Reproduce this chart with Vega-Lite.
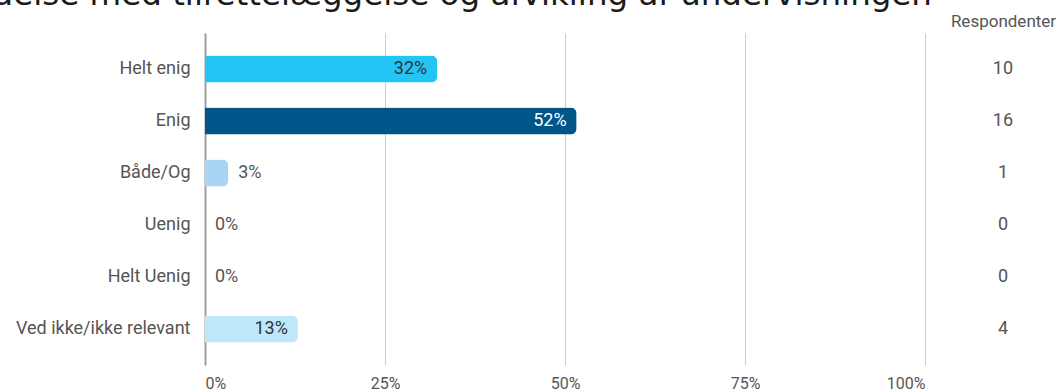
{
  "$schema": "https://vega.github.io/schema/vega-lite/v6.json",
  "autosize": {"type": "none"},
  "padding": {"left": 205, "top": 33, "right": 136, "bottom": 27},
  "width": 720,
  "height": 332,
  "background": "white",
  "config": {"view": {"stroke": null}, "font": "Roboto"},
  "title": {
    "text": "ndelse med tilrettelæggelse og afvikling af undervisningen",
    "font": "DejaVu Sans",
    "fontSize": 32.5,
    "fontWeight": "normal",
    "color": "#1a1a1a",
    "anchor": "start",
    "frame": "group",
    "baseline": "alphabetic",
    "offset": 0,
    "dx": -233,
    "dy": 25
  },
  "data": {
    "values": [
      {"cat": "Helt enig", "n": 10, "pct": 0.3226},
      {"cat": "Enig", "n": 16, "pct": 0.5161},
      {"cat": "Både/Og", "n": 1, "pct": 0.0323},
      {"cat": "Uenig", "n": 0, "pct": 0},
      {"cat": "Helt Uenig", "n": 0, "pct": 0},
      {"cat": "Ved ikke/ikke relevant", "n": 4, "pct": 0.129}
    ]
  },
  "encoding": {
    "y": {
      "field": "cat", "type": "nominal", "sort": null,
      "scale": {"paddingInner": 0.48, "paddingOuter": 0.43},
      "axis": {
        "title": null, "ticks": false, "labelPadding": 15,
        "labelFontSize": 18, "labelColor": "#555555", "labelFont": "Roboto",
        "domainColor": "#9e9e9e", "domainWidth": 2, "grid": false
      }
    }
  },
  "layer": [
    {
      "mark": {"type": "bar", "cornerRadiusEnd": 6},
      "encoding": {
        "x": {
          "field": "pct", "type": "quantitative",
          "scale": {"domain": [0, 1], "nice": false},
          "axis": {
            "title": "Respondenter", "format": ".0%", "values": [0, 0.25, 0.5, 0.75, 1],
            "domain": false, "ticks": false, "labelFlush": true,
            "labelPadding": 10, "labelFontSize": 16, "labelColor": "#555555",
            "gridColor": "#cccccc", "gridWidth": 1,
            "titleX": 798, "titleY": -344, "titleAlign": "center", "titleBaseline": "middle",
            "titleFontSize": 17, "titleFontWeight": "normal", "titleColor": "#555555", "titleFont": "Roboto"
          }
        },
        "color": {
          "field": "cat", "type": "nominal", "legend": null,
          "scale": {
            "domain": ["Helt enig", "Enig", "Både/Og", "Uenig", "Helt Uenig", "Ved ikke/ikke relevant"],
            "range": ["#22c5f4", "#005589", "#a9d5f5", "#7fb3d5", "#4a90c2", "#bee7fa"]
          }
        }
      }
    },
    {
      "transform": [{"filter": "datum.pct >= 0.1"}],
      "mark": {"type": "text", "align": "right", "dx": -10, "fontSize": 18, "baseline": "middle"},
      "encoding": {
        "x": {"field": "pct", "type": "quantitative"},
        "text": {"field": "pct", "format": ".0%"},
        "color": {"condition": {"test": "datum.cat === 'Enig'", "value": "#ffffff"}, "value": "#333333"}
      }
    },
    {
      "transform": [{"filter": "datum.pct < 0.1"}],
      "mark": {"type": "text", "align": "left", "dx": 10, "fontSize": 18, "baseline": "middle", "color": "#555555"},
      "encoding": {
        "x": {"field": "pct", "type": "quantitative"},
        "text": {"field": "pct", "format": ".0%"}
      }
    },
    {
      "mark": {"type": "text", "align": "center", "fontSize": 18, "baseline": "middle", "color": "#555555"},
      "encoding": {
        "x": {"datum": 1.1083},
        "text": {"field": "n"}
      }
    }
  ]
}
